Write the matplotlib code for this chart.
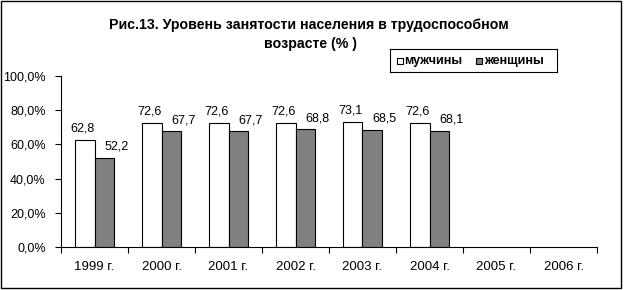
import numpy as np
import matplotlib
matplotlib.use("Agg")
from matplotlib import pyplot as plt
from matplotlib.patches import Rectangle

years = ["1999 г.", "2000 г.", "2001 г.", "2002 г.", "2003 г.", "2004 г.", "2005 г.", "2006 г."]
men = [62.8, 72.6, 72.6, 72.6, 73.1, 72.6, None, None]
women = [52.2, 67.7, 67.7, 68.8, 68.5, 68.1, None, None]
yticks = [0, 20, 40, 60, 80, 100]

plt.rcParams["font.family"] = ["Liberation Sans", "DejaVu Sans"]

W, H = 624, 290
fig = plt.figure(figsize=(W / 100, H / 100), dpi=100)
ax = fig.add_axes([61 / W, 1 - 247 / H, (597 - 61) / W, (247 - 76) / H])

x = np.arange(len(years))
bw = 0.29
for i in range(len(years)):
  if men[i] is not None:
    ax.bar(x[i] - bw / 2, men[i], bw, color="white", edgecolor="black", linewidth=0.8)
    ax.annotate(f"{men[i]:.1f}".replace(".", ","), (x[i] - bw / 2, men[i]),
      xytext=(-2, 5), textcoords="offset pixels", ha="center", va="bottom", fontsize=9)
  if women[i] is not None:
    ax.bar(x[i] + bw / 2, women[i], bw, color="#808080", edgecolor="black", linewidth=0.8)
    ax.annotate(f"{women[i]:.1f}".replace(".", ","), (x[i] + bw / 2, women[i]),
      xytext=(12, 5), textcoords="offset pixels", ha="center", va="bottom", fontsize=9)

ax.set_xlim(-0.5, len(years) - 0.5)
ax.set_ylim(0, 100)
ax.set_yticks(yticks)
ax.set_yticklabels([f"{v:.1f}%".replace(".", ",") for v in yticks], fontsize=9)
ax.set_xticks(list(x - 0.5) + [len(years) - 0.5])
ax.set_xticklabels([])
for i, lab in enumerate(years):
  ax.annotate(lab, (x[i], 0), xytext=(0, -20), textcoords="offset pixels",
    ha="center", va="center", fontsize=9.5)
ax.tick_params(axis="both", direction="out", length=4, width=0.8)
ax.tick_params(axis="y", pad=7)
for s in ["top", "right"]:
  ax.spines[s].set_visible(False)
for s in ["left", "bottom"]:
  ax.spines[s].set_linewidth(0.8)

fig.text(309 / W, 1 - 25 / H, "Рис.13. Уровень занятости населения в трудоспособном",
  ha="center", va="center", fontsize=10.2, fontweight="bold")
fig.text(311 / W, 1 - 44 / H, "возрасте (% )",
  ha="center", va="center", fontsize=10.2, fontweight="bold")

# legend
lg = fig.add_axes([390 / W, 1 - 72 / H, 167 / W, 23 / H])
lg.set_xlim(390, 557)
lg.set_ylim(72, 49)
lg.set_xticks([])
lg.set_yticks([])
for s in lg.spines.values():
  s.set_linewidth(0.8)
lg.add_patch(Rectangle((397, 58), 6, 6, facecolor="white", edgecolor="black", linewidth=0.8))
lg.text(404, 61, "мужчины", va="center", fontsize=9, fontweight="bold")
lg.add_patch(Rectangle((476, 58), 6, 6, facecolor="#808080", edgecolor="black", linewidth=0.8))
lg.text(484, 61, "женщины", va="center", fontsize=9, fontweight="bold")

fig.patches.append(Rectangle((0.5 / W, 2 / H), (621 - 0.5) / W, (H - 2.5) / H,
  transform=fig.transFigure, fill=False, edgecolor="black", linewidth=1))

fig.savefig("out.png", dpi=100)
